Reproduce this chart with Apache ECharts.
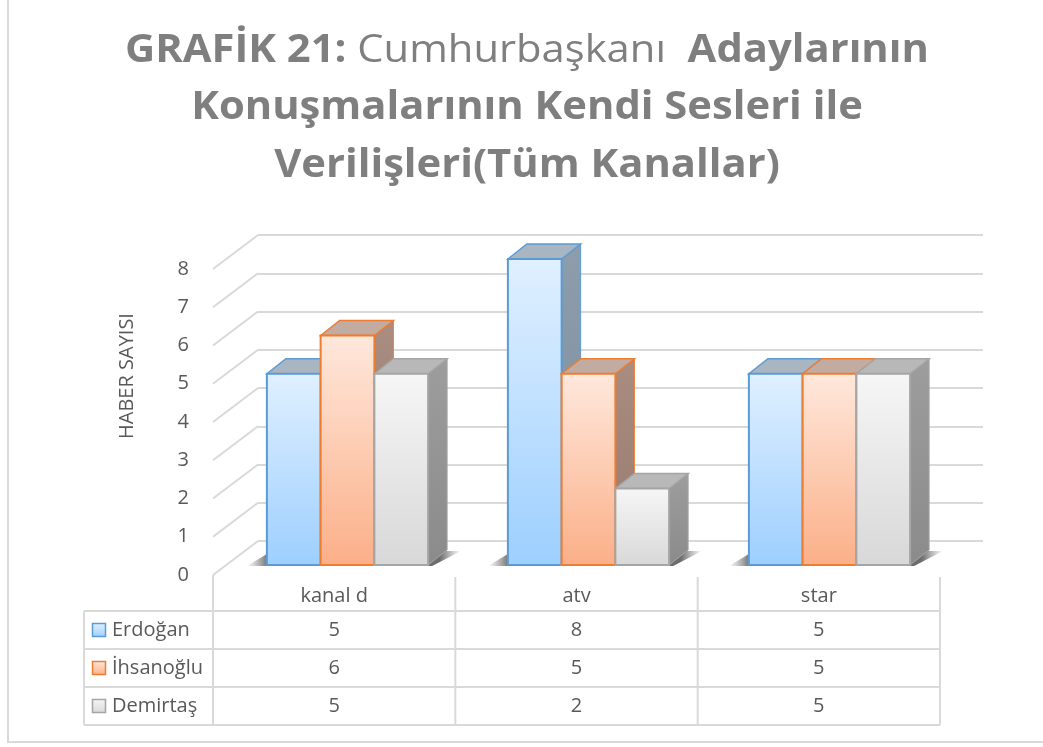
<!DOCTYPE html>
<html>
<head>
<meta charset="utf-8">
<script src="https://cdn.jsdelivr.net/npm/echarts@6/dist/echarts.min.js"></script>
<style>
html, body { margin: 0; padding: 0; background: #fff; }
#main { width: 1043px; height: 747px; }
</style>
</head>
<body>
<div id="main"></div>
<script>
// veriler
const kanallar = ['kanal d', 'atv', 'star'];
const adaylar = ['Erdoğan', 'İhsanoğlu', 'Demirtaş'];
const erdogan = [5, 8, 5];
const ihsanoglu = [6, 5, 5];
const demirtas = [5, 2, 5];
const degerler = [erdogan, ihsanoglu, demirtas];
const yEksen = [0, 1, 2, 3, 4, 5, 6, 7, 8];

const FONT = '"Open Sans", "Noto Sans", sans-serif';
const YAZI = '#595959';
const CIZGI = '#d9d9d9';
// derinlik kaydirmasi (cubugun yan/ust yuzu)
const DX = 19, DY = -15;
// sol duvar kaydirmasi
const WX = 45, WY = -34;

const renkler = [
	{ kenar: '#5b9bd5', ust: '#a9b5c1', on: ['#e0f0ff', '#9dcfff'], yan: ['#8d9dac', '#7c8c9b'] },
	{ kenar: '#ed7d31', ust: '#c2aca2', on: ['#ffe8dc', '#fbaf88'], yan: ['#a98d80', '#977a6d'] },
	{ kenar: '#a5a5a5', ust: '#b8b8b8', on: ['#f6f6f6', '#d8d8d8'], yan: ['#9d9d9d', '#8b8b8b'] }
];

const dom = document.getElementById('main');
const myChart = echarts.init(dom);

// tablo olculeri (on duzlem grid'i ile ayni)
const tabloSol = 84, gridSol = 213, gridSag = 940;
const satirlar = [611, 649, 687, 725];
const kolonW = (gridSag - gridSol) / kanallar.length;

function kutuCiz(sIdx) {
	return function(params, api) {
		const kat = api.value(0);
		const alt = api.coord([kat, 0]);
		const ust = api.coord([kat, api.value(1)]);
		const bw = api.size([1, 0])[0] * 0.223;
		const x0 = alt[0] - 1.5 * bw + sIdx * bw;
		const x1 = x0 + bw;
		const yb = alt[1], yt = ust[1];
		const c = renkler[sIdx];
		return {
			type: 'group',
			children: [{
				type: 'polygon',
				shape: { points: [[x1, yt], [x1 + DX, yt + DY], [x1 + DX, yb + DY], [x1, yb]] },
				style: {
					fill: new echarts.graphic.LinearGradient(0, 0, 0, 1, [
						{ offset: 0, color: c.yan[0] }, { offset: 1, color: c.yan[1] }]),
					stroke: c.kenar, lineWidth: 1
				}
			}, {
				type: 'polygon',
				shape: { points: [[x0, yt], [x0 + DX, yt + DY], [x1 + DX, yt + DY], [x1, yt]] },
				style: { fill: c.ust, stroke: c.kenar, lineWidth: 1.5 }
			}, {
				type: 'rect',
				shape: { x: x0, y: yt, width: bw, height: yb - yt },
				style: {
					fill: new echarts.graphic.LinearGradient(0, 0, 0, 1, [
						{ offset: 0, color: c.on[0] }, { offset: 1, color: c.on[1] }]),
					stroke: c.kenar, lineWidth: 2
				}
			}]
		};
	};
}

// zemindeki golge
function golgeCiz(params, api) {
	const alt = api.coord([api.value(0), 0]);
	const bw = api.size([1, 0])[0] * 0.223;
	const gl = alt[0] - 1.5 * bw, gr = alt[0] + 1.5 * bw;
	const yb = alt[1] + 1;
	return {
		type: 'polygon',
		shape: { points: [[gl - 20, yb], [gr + 4, yb], [gr + DX + 14, yb + DY], [gl + DX - 14, yb + DY]] },
		style: {
			fill: new echarts.graphic.LinearGradient(0, 0, 1, 0, [
				{ offset: 0, color: 'rgba(90,90,90,0)' },
				{ offset: 0.1, color: 'rgba(60,60,60,0.75)' },
				{ offset: 0.9, color: 'rgba(60,60,60,0.75)' },
				{ offset: 1, color: 'rgba(90,90,90,0)' }])
		}
	};
}

// sol duvar cizgileri
function duvarCiz(params, api) {
	const p = api.coord([0, api.value(0)]);
	const x = params.coordSys.x;
	return {
		type: 'line',
		shape: { x1: x, y1: p[1], x2: x + WX, y2: p[1] + WY },
		style: { stroke: CIZGI, lineWidth: 2 }
	};
}

// tablo
const tablo = [];
satirlar.forEach(function(y) {
	tablo.push({ type: 'line', shape: { x1: tabloSol, y1: y, x2: gridSag, y2: y }, style: { stroke: CIZGI, lineWidth: 2 } });
});
tablo.push({ type: 'line', shape: { x1: tabloSol, y1: satirlar[0], x2: tabloSol, y2: satirlar[3] }, style: { stroke: CIZGI, lineWidth: 2 } });
tablo.push({ type: 'line', shape: { x1: gridSol, y1: 575, x2: gridSol, y2: satirlar[3] }, style: { stroke: CIZGI, lineWidth: 2 } });
for (let i = 1; i <= kanallar.length; i++) {
	const x = gridSol + i * kolonW;
	tablo.push({ type: 'line', shape: { x1: x, y1: 577, x2: x, y2: satirlar[3] }, style: { stroke: CIZGI, lineWidth: 2 } });
}
adaylar.forEach(function(ad, s) {
	const yc = (satirlar[s] + satirlar[s + 1]) / 2;
	const c = renkler[s];
	tablo.push({
		type: 'rect',
		shape: { x: 92.5, y: yc - 6.5, width: 13, height: 13 },
		style: {
			fill: new echarts.graphic.LinearGradient(0, 0, 0, 1, [
				{ offset: 0, color: c.on[0] }, { offset: 1, color: c.on[1] }]),
			stroke: c.kenar, lineWidth: 1.5
		}
	});
	tablo.push({
		type: 'text', x: 112, y: yc,
		style: { text: ad, font: '20px ' + FONT, fill: YAZI, verticalAlign: 'middle', align: 'left' }
	});
	degerler[s].forEach(function(v, k) {
		tablo.push({
			type: 'text', x: gridSol + (k + 0.5) * kolonW, y: yc,
			style: { text: String(v), font: '20px ' + FONT, fill: YAZI, verticalAlign: 'middle', align: 'center' }
		});
	});
});

const baslik = '{b|GRAFİK 21:}{r| Cumhurbaşkanı  }{b|Adaylarının}\n{b|Konuşmalarının Kendi Sesleri ile}\n{b|Verilişleri(Tüm Kanallar)}';

var option = {
	backgroundColor: '#fff',
	animation: false,
	grid: [
		// arka duvar
		{ left: 258, right: 60, top: 235, bottom: 206 },
		// cubuk duzlemi
		{ left: 227, right: 93, top: 259, bottom: 182 },
		// on duzlem (etiketler)
		{ left: gridSol, right: 1043 - gridSag, top: 269, bottom: 172 }
	],
	xAxis: [
		{ gridIndex: 0, type: 'category', data: kanallar, show: false },
		{ gridIndex: 1, type: 'category', data: kanallar, show: false },
		{
			gridIndex: 2, type: 'category', data: kanallar,
			axisLine: { show: false }, axisTick: { show: false },
			axisLabel: { margin: 11, color: YAZI, fontFamily: FONT, fontSize: 20 }
		}
	],
	yAxis: [
		{
			gridIndex: 0, type: 'value', min: 0, max: 8, interval: 1,
			axisLabel: { show: false }, axisLine: { show: false }, axisTick: { show: false },
			splitLine: { lineStyle: { color: CIZGI, width: 2 } }
		},
		{ gridIndex: 1, type: 'value', min: 0, max: 8, interval: 1, show: false },
		{
			gridIndex: 2, type: 'value', min: 0, max: 8, interval: 1,
			axisLine: { show: false }, axisTick: { show: false }, splitLine: { show: false },
			axisLabel: { margin: 24, color: YAZI, fontFamily: FONT, fontSize: 20 }
		}
	],
	series: [{
		type: 'custom', xAxisIndex: 2, yAxisIndex: 2,
		renderItem: duvarCiz,
		data: yEksen.map(function(v) { return [v]; })
	}, {
		type: 'custom', xAxisIndex: 1, yAxisIndex: 1,
		renderItem: golgeCiz,
		data: kanallar.map(function(k, i) { return [i]; })
	}].concat(adaylar.map(function(ad, s) {
		return {
			name: ad, type: 'custom', xAxisIndex: 1, yAxisIndex: 1,
			renderItem: kutuCiz(s),
			data: degerler[s].map(function(v, i) { return [i, v]; })
		};
	})),
	graphic: [{
		type: 'rect',
		shape: { x: 8, y: -10, width: 1100, height: 752 },
		style: { fill: 'none', stroke: CIZGI, lineWidth: 2 },
		silent: true
	}, {
		// baslik (yazi biraz yatayda esnetildi)
		type: 'text', x: 527, y: 22, scaleX: 1.07,
		style: {
			text: baslik, align: 'center', verticalAlign: 'top',
			rich: {
				b: { fontFamily: FONT, fontSize: 39, fontWeight: 'bold', fill: '#7f7f7f', lineHeight: 57.5 },
				r: { fontFamily: FONT, fontSize: 39, fontWeight: 'normal', fill: '#7f7f7f', lineHeight: 57.5 }
			}
		}
	}, {
		type: 'text', x: 127, y: 376, rotation: Math.PI / 2,
		style: { text: 'HABER SAYISI', font: '20px ' + FONT, fill: YAZI, align: 'center', verticalAlign: 'middle' }
	}].concat(tablo)
};
myChart.setOption(option);
</script>
</body>
</html>
